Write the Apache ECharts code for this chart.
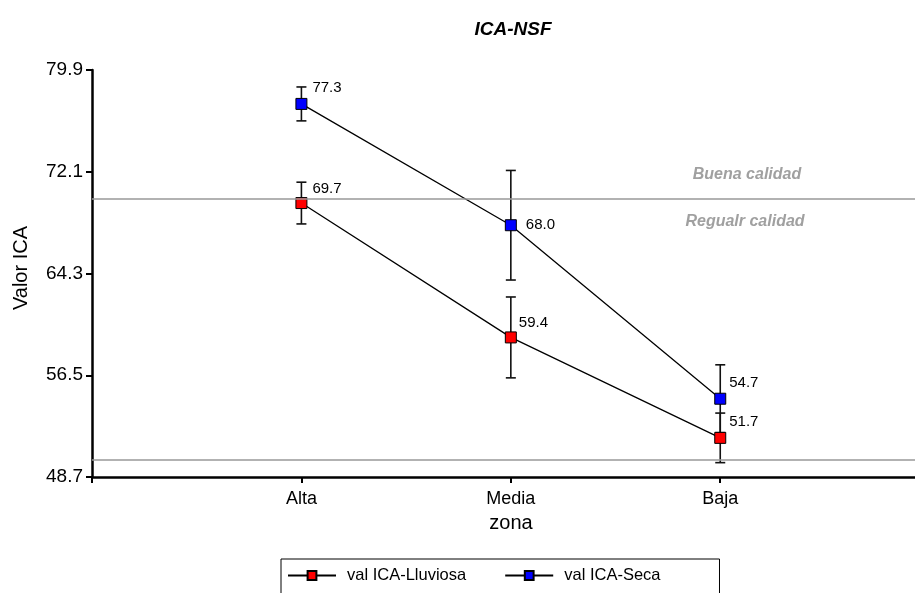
<!DOCTYPE html>
<html>
<head>
<meta charset="utf-8">
<script src="https://cdn.jsdelivr.net/npm/echarts@6/dist/echarts.min.js"></script>
<style>
html,body{margin:0;padding:0;background:#fff;}
#c{width:915px;height:593px;}
</style>
</head>
<body>
<div id="c"></div>
<script>
// ---- data ----
var categories = ['Alta', 'Media', 'Baja'];
var lluviosa = [69.7, 59.4, 51.7];
var seca = [77.3, 68.0, 54.7];
var errLluviosa = [1.6, 3.1, 1.9];
var errSeca = [1.3, 4.2, 2.6];
var yTicks = [48.7, 56.5, 64.3, 72.1, 79.9];
var refLines = [70, 50];

// ---- label styling (offsets) ----
var offLluviosa = [[0, -14], [-3, -15], [-2, -16]];
var offSeca = [[0, -16], [4, 0], [-2, -16]];

var font = 'Liberation Sans, Arial, sans-serif';

function buildLine(vals, offs) {
  return vals.map(function (v, i) {
    return {
      value: [i + 1, v],
      label: { offset: offs[i] }
    };
  });
}
function buildErr(vals, errs) {
  return vals.map(function (v, i) { return [i + 1, v - errs[i], v + errs[i]]; });
}

function errRender(params, api) {
  var x = api.value(0);
  var lo = api.coord([x, api.value(1)]);
  var hi = api.coord([x, api.value(2)]);
  var w = 5;
  var st = { stroke: '#111', lineWidth: 1.6 };
  return {
    type: 'group',
    children: [
      { type: 'line', shape: { x1: lo[0], y1: lo[1], x2: hi[0], y2: hi[1] }, style: st },
      { type: 'line', shape: { x1: lo[0] - w, y1: lo[1], x2: lo[0] + w, y2: lo[1] }, style: st },
      { type: 'line', shape: { x1: hi[0] - w, y1: hi[1], x2: hi[0] + w, y2: hi[1] }, style: st }
    ]
  };
}

var chart = echarts.init(document.getElementById('c'));
var labelCommon = {
  show: true,
  position: 'right',
  distance: 5,
  color: '#000',
  fontSize: 15,
  fontFamily: font,
  formatter: function (p) { return p.value[1].toFixed(1); }
};

chart.setOption({
  backgroundColor: '#fff',
  animation: false,
  title: {
    text: 'ICA-NSF',
    left: 508,
    textAlign: 'center',
    top: 15,
    textStyle: { fontSize: 19, fontWeight: 'bold', fontStyle: 'italic', fontFamily: font, color: '#000' }
  },
  grid: { left: 92, right: 0, top: 70, bottom: 116 },
  xAxis: {
    type: 'value',
    min: 0,
    max: 3.93,
    axisLine: { lineStyle: { color: '#000', width: 2.5 } },
    axisTick: { show: true, length: 6, customValues: [0, 1, 2, 3], lineStyle: { color: '#000', width: 2 } },
    axisLabel: {
      customValues: [1, 2, 3],
      formatter: function (v) { return categories[Math.round(v) - 1] || ''; },
      color: '#000', fontSize: 18, fontFamily: font, margin: 13
    },
    splitLine: { show: false }
  },
  yAxis: {
    type: 'value',
    min: 48.7,
    max: 79.9,
    axisLine: { show: true, lineStyle: { color: '#000', width: 2.5 } },
    axisTick: { show: true, length: 6, customValues: yTicks, lineStyle: { color: '#000', width: 2 } },
    axisLabel: {
      customValues: yTicks,
      formatter: function (v) { return v.toFixed(1); },
      color: '#000', fontSize: 19, fontFamily: font, margin: 9
    },
    splitLine: { show: false }
  },
  legend: {
    left: 281,
    top: 559,
    orient: 'horizontal',
    borderColor: '#000',
    borderWidth: 1,
    borderRadius: 0,
    padding: [8, 59, 40, 6],
    itemWidth: 48,
    itemHeight: 11,
    itemGap: 38,
    textStyle: { fontSize: 16.5, fontFamily: font, color: '#000', padding: [0, 0, 0, 6] },
    data: ['val ICA-Lluviosa', 'val ICA-Seca']
  },
  graphic: [
    { type: 'text', x: 747, y: 175, style: { text: 'Buena calidad', fill: '#a0a0a0', font: 'italic bold 16px ' + font, textAlign: 'center', textVerticalAlign: 'middle' } },
    { type: 'text', x: 745, y: 222, style: { text: 'Regualr calidad', fill: '#a0a0a0', font: 'italic bold 16px ' + font, textAlign: 'center', textVerticalAlign: 'middle' } },
    { type: 'text', x: 511, y: 523, style: { text: 'zona', fill: '#000', font: '20px ' + font, textAlign: 'center', textVerticalAlign: 'middle' } },
    { type: 'text', x: 21, y: 268, rotation: Math.PI / 2, style: { text: 'Valor ICA', fill: '#000', font: '20px ' + font, textAlign: 'center', textVerticalAlign: 'middle' } }
  ],
  series: [
    {
      type: 'custom',
      name: 'errL',
      renderItem: errRender,
      data: buildErr(lluviosa, errLluviosa),
      z: 1,
      silent: true
    },
    {
      type: 'custom',
      name: 'errS',
      renderItem: errRender,
      data: buildErr(seca, errSeca),
      z: 1,
      silent: true
    },
    {
      type: 'line',
      name: 'val ICA-Lluviosa',
      data: buildLine(lluviosa, offLluviosa),
      symbol: 'rect',
      symbolSize: 11,
      z: 3,
      lineStyle: { color: '#000', width: 1.3 },
      itemStyle: { color: '#ff0000', borderColor: '#000', borderWidth: 1 },
      label: labelCommon,
      markLine: {
        silent: true,
        symbol: 'none',
        label: { show: false },
        lineStyle: { color: '#999', width: 1.5, type: 'solid' },
        data: refLines.map(function (v) { return { yAxis: v }; })
      }
    },
    {
      type: 'line',
      name: 'val ICA-Seca',
      data: buildLine(seca, offSeca),
      symbol: 'rect',
      symbolSize: 11,
      z: 3,
      lineStyle: { color: '#000', width: 1.3 },
      itemStyle: { color: '#0000ff', borderColor: '#000', borderWidth: 1 },
      label: labelCommon
    }
  ]
});
</script>
</body>
</html>
